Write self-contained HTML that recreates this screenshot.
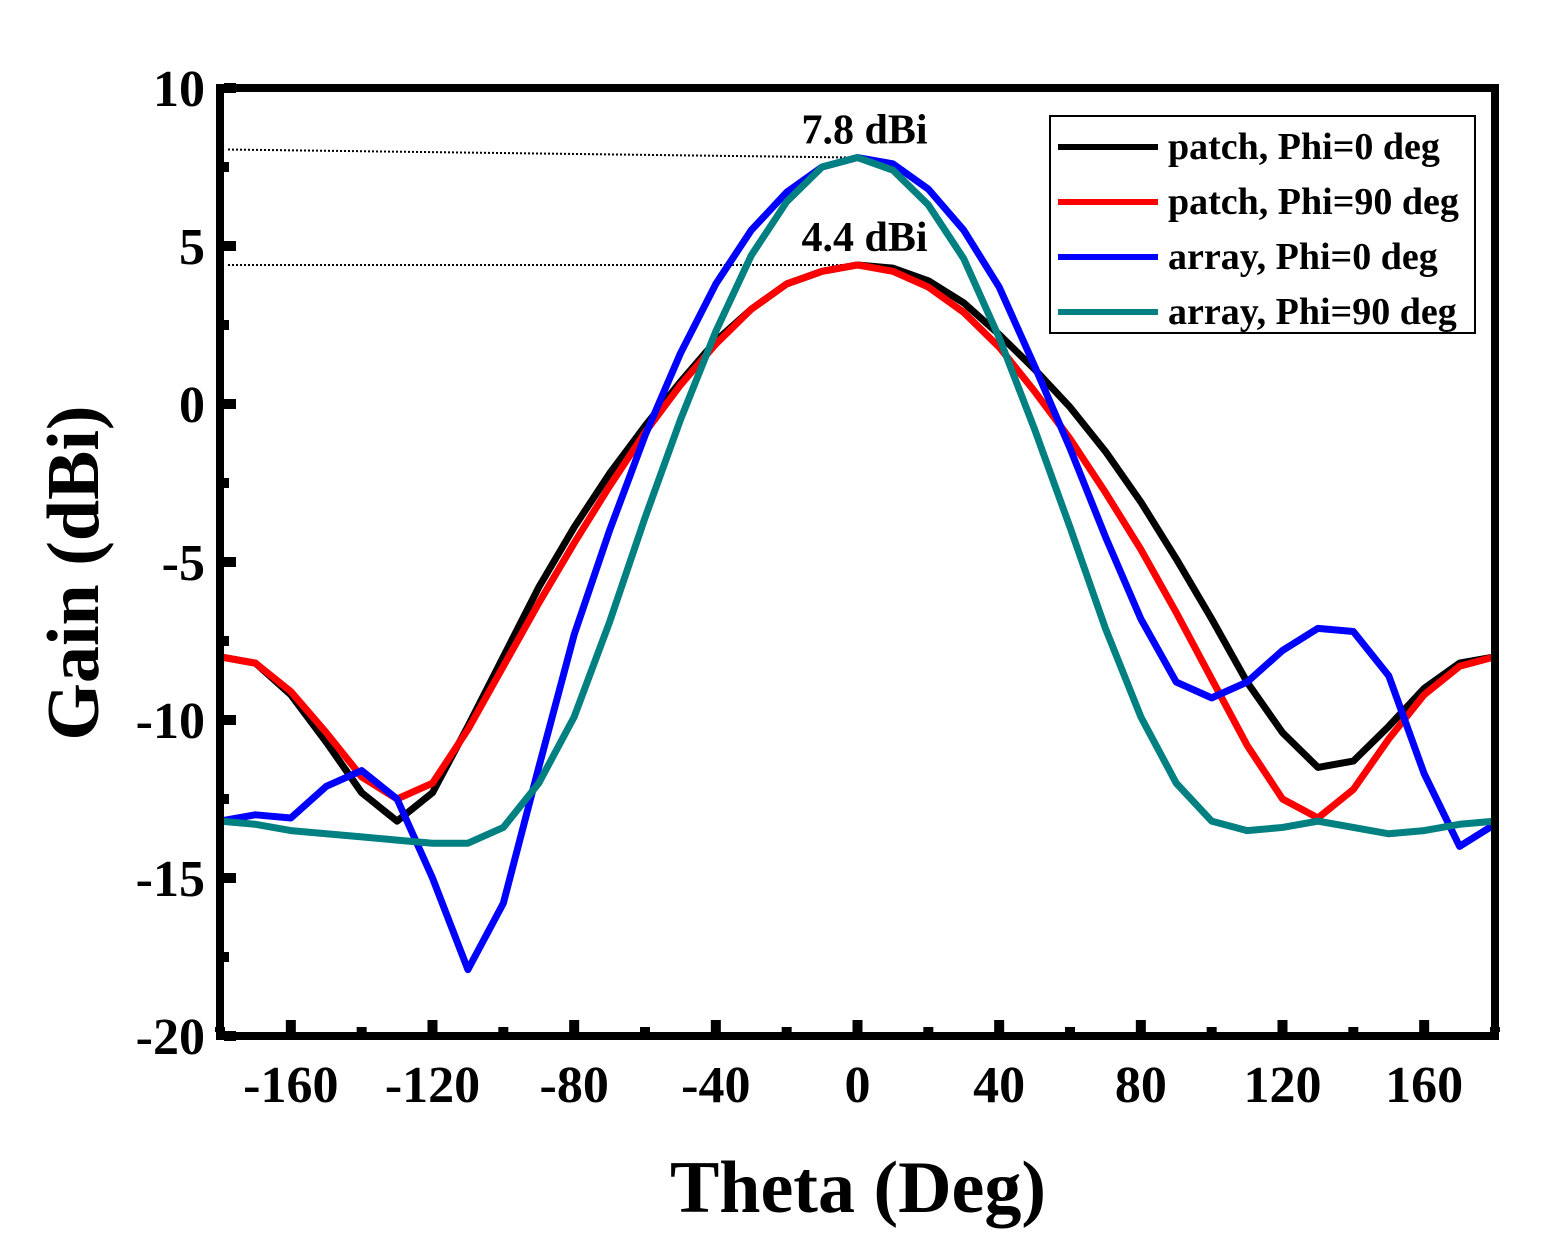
<!DOCTYPE html>
<html><head><meta charset="utf-8"><style>
body{margin:0;background:#fff}
svg text{font-family:"Liberation Serif",serif;font-weight:bold;fill:#000}
</style></head><body>
<svg id="chart" width="1542" height="1244" xmlns="http://www.w3.org/2000/svg">
<g id="marks"></g>
</svg>
<script>
const thetas=[-180,-170,-160,-150,-140,-130,-120,-110,-100,-90,-80,-70,-60,-50,-40,-30,-20,-10,0,10,20,30,40,50,60,70,80,90,100,110,120,130,140,150,160,170,180];
const patchPhi0=[-8,-8.2,-9.2,-10.7,-12.3,-13.2,-12.3,-10.2,-8,-5.8,-3.9,-2.2,-0.7,0.7,2,3,3.8,4.2,4.4,4.3,3.9,3.2,2.2,1.1,-0.1,-1.5,-3.1,-4.9,-6.8,-8.8,-10.4,-11.5,-11.3,-10.2,-9,-8.2,-8];
const patchPhi90=[-8,-8.2,-9.1,-10.4,-11.8,-12.5,-12,-10.3,-8.3,-6.3,-4.4,-2.6,-0.9,0.6,1.9,3,3.8,4.2,4.4,4.2,3.7,2.9,1.8,0.4,-1.1,-2.8,-4.6,-6.6,-8.7,-10.8,-12.5,-13.1,-12.2,-10.6,-9.2,-8.3,-8];
const arrayPhi0=[-13.2,-13,-13.1,-12.1,-11.6,-12.5,-15,-17.9,-15.8,-11.5,-7.3,-4,-1,1.6,3.8,5.5,6.7,7.5,7.8,7.6,6.8,5.5,3.7,1.2,-1.4,-4.2,-6.8,-8.8,-9.3,-8.8,-7.8,-7.1,-7.2,-8.6,-11.7,-14,-13.3];
const arrayPhi90=[-13.2,-13.3,-13.5,-13.6,-13.7,-13.8,-13.9,-13.9,-13.4,-12,-9.9,-6.9,-3.6,-0.5,2.3,4.7,6.4,7.5,7.8,7.4,6.3,4.6,2.1,-0.8,-3.9,-7.1,-9.9,-12,-13.2,-13.5,-13.4,-13.2,-13.4,-13.6,-13.5,-13.3,-13.2];
const xTicks=[-160,-120,-80,-40,0,40,80,120,160];
const yTicks=[10,5,0,-5,-10,-15,-20];
const seriesNames=["patch, Phi=0 deg","patch, Phi=90 deg","array, Phi=0 deg","array, Phi=90 deg"];
const seriesColors=["#000000","#ff0000","#0000ff","#008080"];
const peakValues=[7.8,4.4];

const L=220,R=1495,T=88,B=1036;
const X=v=>L+(v+180)/360*(R-L);
const Y=v=>T+(10-v)/30*(B-T);
const NS="http://www.w3.org/2000/svg";
const g=document.getElementById('marks');
function mk(tag,attrs,parent){const e=document.createElementNS(NS,tag);for(const k in attrs)e.setAttribute(k,attrs[k]);(parent||g).appendChild(e);return e;}

peakValues.forEach((p,i)=>{
  const l=mk('line',{x1:228,y1:Y(p)+(i==0?-8:0),x2:X(0)-5,y2:Y(p),stroke:'#000','stroke-width':2,'stroke-dasharray':'2,2'});
  
  
  const t=mk('text',{x:X(0)+7,y:Y(p)-14,'font-size':42,'text-anchor':'middle'});
  t.textContent=p.toFixed(1)+' dBi';
  
  
});

[patchPhi0,patchPhi90,arrayPhi0,arrayPhi90].forEach((s,i)=>{
  const pts=s.map((v,j)=>X(thetas[j])+','+Y(v)).join(' ');
  const pl=mk('polyline',{points:pts,fill:'none',stroke:seriesColors[i],'stroke-width':7,'stroke-linejoin':'round'});
  
  
});

const fr=mk('rect',{x:L,y:T,width:R-L,height:B-T,fill:'none',stroke:'#000','stroke-width':8});



for(let v=-180;v<=180;v+=20){
  const len=(Math.abs(v)%40===0)?12:5;
  const t=mk('rect',{x:X(v)-5,y:B-4-len,width:10,height:len,fill:'#000'});
  
  
}
xTicks.forEach(v=>{
  const t=mk('text',{x:X(v),y:1102,'font-size':52,'text-anchor':'middle'});
  t.textContent=v;
  
  
});
for(let v=-20;v<=10;v+=2.5){
  const len=(v%5===0)?12:5;
  const t=mk('rect',{x:L+4,y:Y(v)-5,width:len,height:10,fill:'#000'});
  
  
}
yTicks.forEach(v=>{
  const t=mk('text',{x:205,y:Y(v)+18,'font-size':52,'text-anchor':'end'});
  t.textContent=v;
  
  
});

const xt=mk('text',{x:858,y:1212,'font-size':74,'text-anchor':'middle'});
xt.textContent='Theta (Deg)';


const yt=mk('text',{x:0,y:0,'font-size':74,'text-anchor':'middle',transform:'translate(98,573) rotate(-90)'});
yt.textContent='Gain (dBi)';



const lg=mk('rect',{x:1050,y:116,width:425,height:217,fill:'#fff',stroke:'#000','stroke-width':2});


seriesNames.forEach((n,i)=>{
  const y=147+i*55;
  const l=mk('line',{x1:1058,y1:y,x2:1158,y2:y,stroke:seriesColors[i],'stroke-width':6});
  
  
  const t=mk('text',{x:1168,y:y+12,'font-size':38});
  t.textContent=n;
  
  
});
</script>
</body></html>
